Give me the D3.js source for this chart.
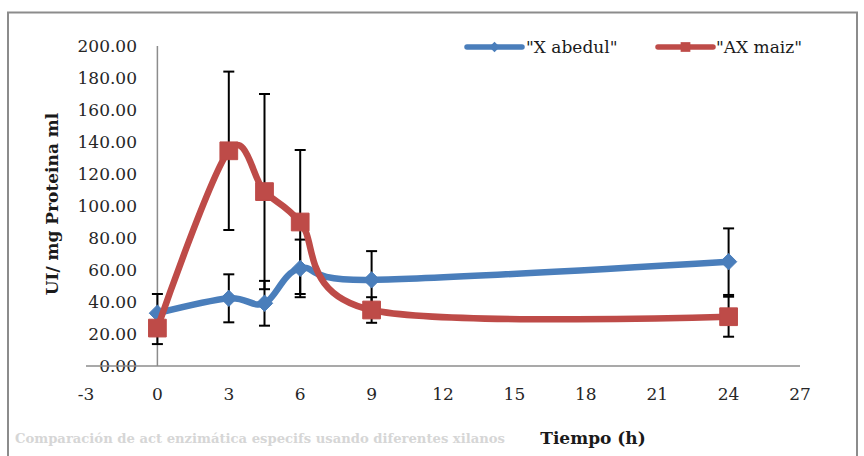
<!DOCTYPE html>
<html>
<head>
<meta charset="utf-8">
<script src="https://cdn.jsdelivr.net/npm/d3@7"></script>
<style>
  html, body { margin: 0; padding: 0; background: #fff; }
  svg { display: block; }
  text { font-family: "DejaVu Serif", "Liberation Serif", serif; }
</style>
</head>
<body>
<svg id="chart" width="864" height="456"></svg>
<script>
// Sampling times (h)
const tiempos = [0, 3, 4.5, 6, 9, 24];

// Specific activity (UI / mg protein ml) and standard deviations
const abedulValores = [33, 42.3, 39.2, 61, 53.8, 65.2];
const abedulError   = [12, 15, 14, 18, 18, 20.8];

const maizValores = [23.7, 134.5, 109, 90, 35, 30.8];
const maizError   = [10, 49.5, 61, 45, 8, 12.5];

const seriesNombres = ['"X abedul"', '"AX maiz"'];
const xTicks = [-3, 0, 3, 6, 9, 12, 15, 18, 21, 24, 27];
const yTicks = [0, 20, 40, 60, 80, 100, 120, 140, 160, 180, 200];

const svg = d3.select("#chart");
const azul = "#4a7ebb", rojo = "#be4b48", gris = "#8c8c8c";

// outer frame
svg.append("rect")
  .attr("x", 8).attr("y", 12.5).attr("width", 849).attr("height", 470)
  .attr("fill", "#fff").attr("stroke", gris).attr("stroke-width", 2);

const x = d3.scaleLinear().domain([-3, 27]).range([86, 800]);
const y = d3.scaleLinear().domain([0, 200]).range([366, 46]);

// y axis line at x = 0
svg.append("line")
  .attr("x1", x(0)).attr("x2", x(0)).attr("y1", y(200)).attr("y2", y(0))
  .attr("stroke", gris).attr("stroke-width", 1.5);

// y tick labels
svg.append("g").selectAll("text").data(yTicks).join("text")
  .attr("x", 137).attr("y", d => y(d)).attr("dy", "0.36em")
  .attr("text-anchor", "end").attr("font-size", 17).attr("fill", "#262626")
  .text(d => d.toFixed(2));

// x axis line at y = 0 (drawn after labels, crossing "0.00")
svg.append("line")
  .attr("x1", x(-3)).attr("x2", x(27)).attr("y1", y(0)).attr("y2", y(0))
  .attr("stroke", gris).attr("stroke-width", 1.5);

// x tick labels
svg.append("g").selectAll("text").data(xTicks).join("text")
  .attr("x", d => x(d)).attr("y", 400)
  .attr("text-anchor", "middle").attr("font-size", 17).attr("fill", "#262626")
  .text(d => d);

// axis titles
svg.append("text")
  .attr("transform", "translate(58,204) rotate(-90)")
  .attr("text-anchor", "middle").attr("font-size", 17).attr("font-weight", "bold")
  .attr("fill", "#1a1a1a")
  .text("UI/ mg Proteina ml");

svg.append("text")
  .attr("x", 593).attr("y", 444)
  .attr("text-anchor", "middle").attr("font-size", 17).attr("font-weight", "bold")
  .attr("fill", "#1a1a1a")
  .text("Tiempo (h)");

svg.append("text")
  .attr("x", 15).attr("y", 443)
  .attr("font-size", 13).attr("font-weight", "bold").attr("fill", "#d6d6d6")
  .attr("textLength", 490).attr("lengthAdjust", "spacingAndGlyphs")
  .text("Comparación de act enzimática especifs usando diferentes xilanos");

const series = [
  { nombre: seriesNombres[0], valores: abedulValores, error: abedulError, color: azul, marca: "diamond" },
  { nombre: seriesNombres[1], valores: maizValores, error: maizError, color: rojo, marca: "square" }
];

// error bars (under the lines)
const capW = 5.5;
series.forEach(s => {
  const g = svg.append("g").attr("stroke", "#000").attr("stroke-width", 2);
  tiempos.forEach((t, i) => {
    const v = s.valores[i], e = s.error[i];
    const cx = x(t);
    g.append("line").attr("x1", cx).attr("x2", cx).attr("y1", y(v + e)).attr("y2", y(v - e));
    g.append("line").attr("x1", cx - capW).attr("x2", cx + capW).attr("y1", y(v + e)).attr("y2", y(v + e));
    g.append("line").attr("x1", cx - capW).attr("x2", cx + capW).attr("y1", y(v - e)).attr("y2", y(v - e));
  });
});

const linea = d3.line().x(d => x(d[0])).y(d => y(d[1])).curve(d3.curveCardinal.tension(0));

const diamond = d3.symbol().type(d3.symbolDiamond2).size(170);
const square = d3.symbol().type(d3.symbolSquare2).size(400);

series.forEach(s => {
  const pts = tiempos.map((t, i) => [t, s.valores[i]]);
  svg.append("path").datum(pts).attr("d", linea)
    .attr("fill", "none").attr("stroke", s.color).attr("stroke-width", 6.5)
    .attr("stroke-linejoin", "round").attr("stroke-linecap", "round");
  svg.append("g").selectAll("path").data(pts).join("path")
    .attr("transform", d => `translate(${x(d[0])},${y(d[1])})`)
    .attr("d", s.marca === "diamond" ? diamond : square)
    .attr("fill", s.color).attr("stroke", s.color).attr("stroke-width", 1);
});

// legend
const leg = [
  { x0: 467, x1: 522, tx: 526, s: series[0] },
  { x0: 658, x1: 713, tx: 716, s: series[1] }
];
leg.forEach(l => {
  const ly = 47;
  svg.append("line").attr("x1", l.x0).attr("x2", l.x1).attr("y1", ly).attr("y2", ly)
    .attr("stroke", l.s.color).attr("stroke-width", 5.5).attr("stroke-linecap", "round");
  svg.append("path").attr("transform", `translate(${(l.x0 + l.x1) / 2},${ly})`)
    .attr("d", l.s.marca === "diamond" ? d3.symbol().type(d3.symbolDiamond2).size(70) : d3.symbol().type(d3.symbolSquare2).size(120))
    .attr("fill", l.s.color);
  svg.append("text").attr("x", l.tx).attr("y", ly).attr("dy", "0.35em")
    .attr("font-size", 17).attr("fill", "#1a1a1a").text(l.s.nombre);
});
</script>
</body>
</html>
